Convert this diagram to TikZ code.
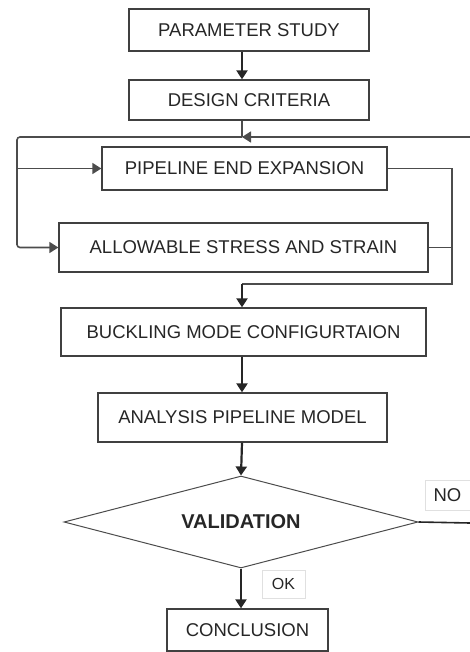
\documentclass[tikz,border=0pt]{standalone}
\usepackage{fontspec}
\setmainfont{Liberation Sans}
\usetikzlibrary{shapes.geometric, arrows.meta}

\begin{document}
\begin{tikzpicture}[x=1pt, y=-1pt,
    every node/.style={font=\fontsize{18.5}{22}\selectfont, text=black!85},
    stage/.style={draw=black!75, line width=1.3pt, inner sep=0pt},
    check/.style={diamond, aspect=3.85, draw=black!70, line width=1pt, inner sep=0pt,
      font=\fontsize{20}{22}\selectfont\bfseries},
    answer/.style={draw=black!12, fill=white, inner sep=0pt},
    flow/.style={draw=black!85, line width=2.2pt, -{Triangle[width=11pt,length=9pt]}},
    feedback/.style={draw=black!70, line width=1.6pt},
    feedback arrow/.style={feedback, -{Triangle[width=11pt,length=9pt]}}]
  \useasboundingbox (0,0) rectangle (470,652);
  %% *** Stages ***
  \node [stage, minimum width=240pt, minimum height=42pt] (study) at (249,30) {PARAMETER STUDY};
  \node [stage, minimum width=240pt, minimum height=40pt] (criteria) at (249,100) {DESIGN CRITERIA};
  \node [stage, minimum width=285pt, minimum height=43pt] (expansion) at (244.5,168.5) {PIPELINE END EXPANSION};
  \node [stage, minimum width=369pt, minimum height=49pt] (allowable) at (243.5,247.5) {ALLOWABLE STRESS AND STRAIN};
  \node [stage, minimum width=365pt, minimum height=48pt] (buckling) at (243.5,332) {BUCKLING MODE CONFIGURTAION};
  \node [stage, minimum width=289pt, minimum height=49pt] (analysis) at (242.5,417.5) {ANALYSIS PIPELINE MODEL};
  \node [check, minimum width=354pt, minimum height=92pt] (validation) at (241,522) {VALIDATION};
  \node [stage, minimum width=161pt, minimum height=42pt] (conclusion) at (247.5,630) {CONCLUSION};
  %% *** Answers ***
  \node [answer, minimum width=45pt, minimum height=30pt] (no) at (447.5,495) {NO};
  \node [answer, minimum width=43pt, minimum height=28pt, font=\fontsize{16}{18}\selectfont] (ok) at (283.5,584) {OK};
  %% *** Buses ***
  \coordinate (spine) at (242,0);
  \coordinate (split) at (242,137);
  \coordinate (leftbus) at (17,0);
  \coordinate (rightbus) at (452,0);
  \coordinate (merge) at (242,284);
  \coordinate (backend) at (470,137);
  \coordinate (noend) at (470,523);
  %% *** Main flow ***
  \draw [flow] (study.south -| spine) -- (criteria.north -| spine);
  \draw [feedback] (criteria.south -| spine) -- (split);
  \draw [feedback arrow] (backend) -- (split);
  \draw [feedback arrow, rounded corners=3pt] (split) -- (split -| leftbus)
    -- (leftbus |- allowable.west) -- (allowable.west);
  \draw [feedback arrow] (leftbus |- expansion.west) -- (expansion.west);
  \draw [feedback] (expansion.east) -- (expansion.east -| rightbus)
    -- (rightbus |- merge) -- (merge);
  \draw [feedback] (allowable.east) -- (allowable.east -| rightbus);
  \draw [flow] (merge) -- (buckling.north -| spine);
  \draw [flow] (buckling.south -| spine) -- (analysis.north -| spine);
  \draw [flow] (analysis.south -| spine) -- (validation.north);
  \draw [flow] (validation.south) -- (conclusion.north -| validation.south);
  \draw [feedback, draw=black!85] (validation.east) -- (noend);
\end{tikzpicture}
\end{document}
